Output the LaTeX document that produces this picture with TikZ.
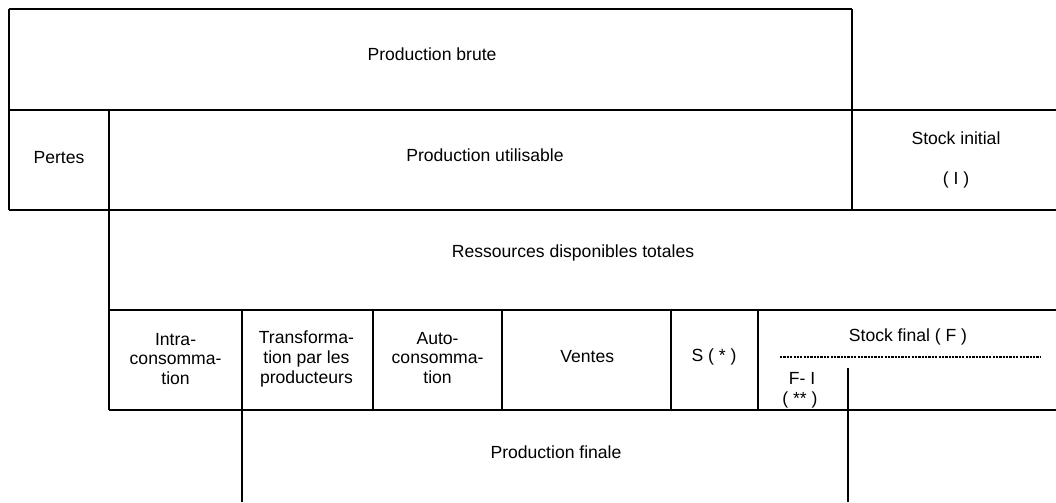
\documentclass[tikz,border=0pt]{standalone}
\usepackage{fontspec}
\setmainfont{Liberation Sans}
\usepackage{tikz}
\usetikzlibrary{positioning}

\begin{document}
\begin{tikzpicture}[
  lbl/.style={inner sep=0pt, align=center, font=\fontsize{12.5}{14.2}\selectfont},
  hrule/.style={line width=1.5pt},
  vrule/.style={line width=1.1pt},
  dotline/.style={line width=0.9pt, dash pattern=on 1.6pt off 0.8pt}
]
  \useasboundingbox (0,0) rectangle (26.4,-12.55);

  % Text of the boxes
  \node[lbl] (brute)  at (10.8,-1.35)   {Production brute};
  \node[lbl] (pertes) at (1.475,-3.95)  {Pertes};
  \node[lbl] (util)   at (12.125,-3.875) {Production utilisable};
  \node[lbl] (sinit)  at (23.9,-3.45)   {Stock initial};
  \node[lbl] (sinitI) at (23.9,-4.5)    {( I )};
  \node[lbl] (ress)   at (14.325,-6.325) {Ressources disponibles totales};
  \node[lbl] (intra)  at (4.39,-8.975)  {Intra-\\consomma-\\tion};
  \node[lbl] (transf) at (7.66,-8.975)  {Transforma-\\tion par les\\producteurs};
  \node[lbl] (auto)   at (10.94,-8.95)  {Auto-\\consomma-\\tion};
  \node[lbl] (ventes) at (14.68,-8.925) {Ventes};
  \node[lbl] (sstar)  at (17.85,-8.925) {S ( * )};
  \node[lbl] (sfin)   at (22.7,-8.425)  {Stock final ( F )};
  \node[lbl] (fmi)    at (20.05,-9.45)  {F- I};
  \node[lbl] (fmis)   at (20.0,-10.0)   {( ** )};
  \node[lbl] (final)  at (13.9,-11.3)   {Production finale};

  % Horizontal rules
  \draw[hrule] (0.225,-0.225) -- (21.3,-0.225);
  \draw[hrule] (0.225,-2.75)  -- (26.4,-2.75);
  \draw[hrule] (0.225,-5.25)  -- (26.4,-5.25);
  \draw[hrule] (2.725,-7.75)  -- (26.4,-7.75);
  \draw[hrule] (2.725,-10.25) -- (26.4,-10.25);
  \draw[dotline] (19.5,-8.925) -- (26.0,-8.925);

  % Vertical rules
  \draw[vrule] (0.225,-0.225) -- (0.225,-5.25);
  \draw[vrule] (21.3,-0.225)  -- (21.3,-5.25);
  \draw[vrule] (2.725,-2.75)  -- (2.725,-10.25);
  \draw[vrule] (6.05,-7.75)   -- (6.05,-12.55);
  \foreach \x in {9.325,12.55,16.775,18.95}
    \draw[vrule] (\x,-7.75) -- (\x,-10.25);
  \draw[vrule] (21.2,-9.2)    -- (21.2,-12.55);
\end{tikzpicture}
\end{document}
